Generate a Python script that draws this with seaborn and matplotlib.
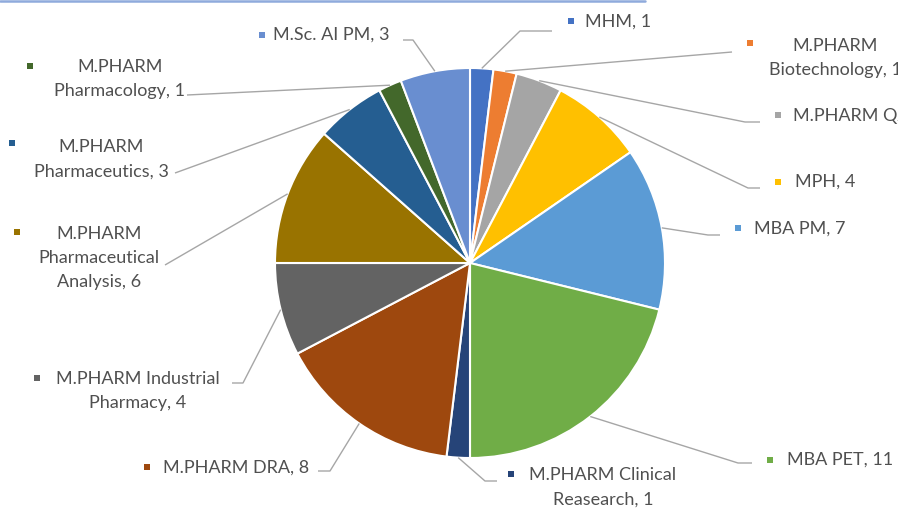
import numpy as np
import matplotlib.pyplot as plt
import seaborn as sns

sns.set_theme(style="white")
plt.rcParams['font.family'] = ['Lato', 'DejaVu Sans']

# ===================== Data =====================
labels = ["MHM, 1", "M.PHARM\nBiotechnology, 1", "M.PHARM QA, 2", "MPH, 4", "MBA PM, 7",
          "MBA PET, 11", "M.PHARM Clinical\nReasearch, 1", "M.PHARM DRA, 8",
          "M.PHARM Industrial\nPharmacy, 4", "M.PHARM\nPharmaceutical\nAnalysis, 6",
          "M.PHARM\nPharmaceutics, 3", "M.PHARM\nPharmacology, 1", "M.Sc. AI PM, 3"]
values = [1, 1, 2, 4, 7, 11, 1, 8, 4, 6, 3, 1, 3]
colors = ["#4472C4", "#ED7D31", "#A5A5A5", "#FFC000", "#5B9BD5", "#70AD47", "#264478",
          "#9E480E", "#636363", "#997300", "#255E91", "#43682B", "#698ED0"]

# ===================== Layout (pixel coords, y from top) =====================
W, H = 898, 509
cx, cy, r = 470, 263, 195

# text position (x, y, ha), marker position, leader path points after pie edge
text_pos = [(585, 22, 'left'), (835, 58, 'center'), (793, 116, 'left'), (795, 182, 'left'),
            (754, 229, 'left'), (787, 460, 'left'), (603, 487, 'center'), (163, 468, 'left'),
            (138, 391, 'center'), (99, 258, 'center'), (101, 159, 'center'),
            (120, 79, 'center'), (273, 35, 'left')]
marker_pos = [(571, 21), (750, 43), (778, 115), (778, 182), (738, 228), (770, 460),
              (511, 474), (147, 467), (37, 378), (17, 232), (12, 143), (30, 66), (262, 35)]
leader_pts = [[(520, 31), (552, 31)], [(732, 52)], [(745, 122), (760, 122)],
              [(748, 188), (760, 188)], [(708, 235), (720, 235)], [(738, 463), (752, 463)],
              [(485, 481), (497, 481)], [(330, 471), (318, 471)], [(243, 383), (232, 383)],
              [(165, 265)], [(175, 173)], [(187, 95)], [(413, 40), (403, 40)]]


def Y(py):
    return H - py


fig = plt.figure(figsize=(W / 100, H / 100), dpi=100)
ax = fig.add_axes([0, 0, 1, 1])

ax.pie(values, colors=sns.color_palette(colors), startangle=90, counterclock=False,
       center=(cx, Y(cy)), radius=r,
       wedgeprops=dict(edgecolor='white', linewidth=1.5))

# leader lines from slice midpoints
total = sum(values)
cum = np.cumsum([0] + values[:-1])
for i, v in enumerate(values):
    theta = np.deg2rad((cum[i] + v / 2) / total * 360)
    ex, ey = cx + r * np.sin(theta), cy - r * np.cos(theta)
    pts = [(ex, ey)] + leader_pts[i]
    ax.plot([p[0] for p in pts], [Y(p[1]) for p in pts], color='#A6A6A6', lw=1,
            solid_capstyle='butt', zorder=3)

# labels + small colour squares
for i, lab in enumerate(labels):
    tx, ty, ha = text_pos[i]
    ax.text(tx, Y(ty), lab, ha=ha, va='center', multialignment='center',
            fontsize=13, color='#505050', linespacing=1.65, zorder=4)
    mx, my = marker_pos[i]
    ax.scatter(mx, Y(my), marker='s', s=22, color=colors[i], linewidths=0, zorder=4)

# cropped border line at the top
ax.plot([0, 645], [Y(1), Y(1)], color='#8FAADC', lw=1.8, clip_on=False)

ax.set_xlim(0, W)
ax.set_ylim(0, H)
ax.axis('off')

fig.savefig('out.png', dpi=100)
